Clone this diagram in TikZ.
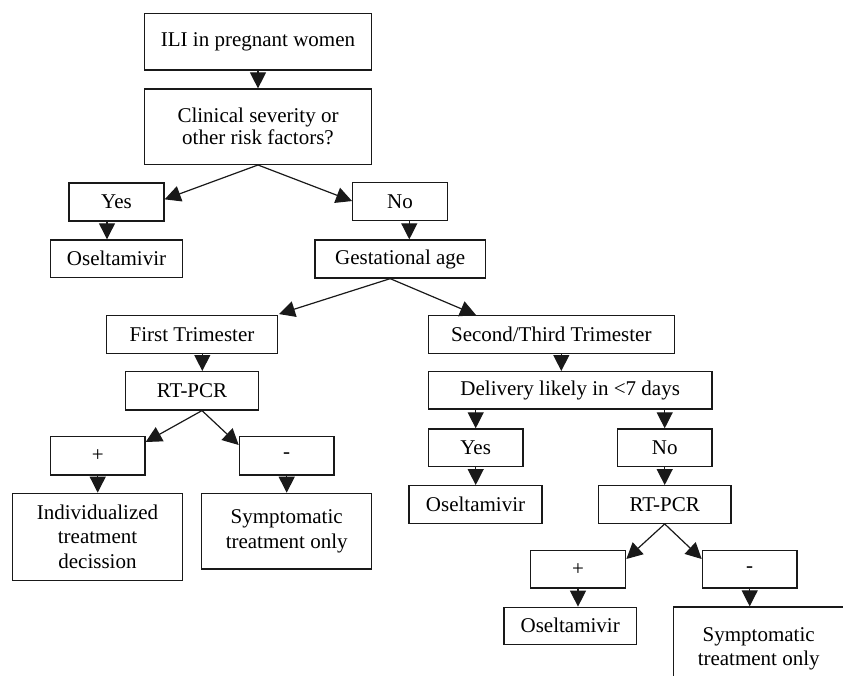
\documentclass[tikz,border=0pt]{standalone}
\usepackage{fontspec}
\setmainfont{Liberation Serif}
\usetikzlibrary{arrows.meta}
\begin{document}
\begin{tikzpicture}[x=1pt,y=-1pt,
  box/.style={draw=black!90, line width=1.3pt, inner sep=0pt, align=center,
    font=\fontsize{21}{24.3}\selectfont},
  arr/.style={draw=black!90, line width=1.2pt, -{Triangle[length=16pt,width=16pt]}}]
\useasboundingbox (0,0) rectangle (843,676);
\clip (0,0) rectangle (843,676);
\node[box, minimum width=227.4pt, minimum height=56.7pt] (ili) at (258,41.7) {ILI in pregnant women};
\node[box, minimum width=227.4pt, minimum height=75.3pt, font=\fontsize{21}{22}\selectfont] (clin) at (258,126.7) {Clinical severity or\\other risk factors?};
\node[box, minimum width=95pt, minimum height=38pt] (yes1) at (116.5,202) {Yes};
\node[box, minimum width=132.4pt, minimum height=37.7pt] (ose1) at (116.5,258.8) {Oseltamivir};
\node[box, minimum width=94.6pt, minimum height=38pt] (no1) at (400,201.7) {No};
\node[box, minimum width=170.3pt, minimum height=38pt] (gest) at (400.2,259) {Gestational age};
\node[box, minimum width=170.6pt, minimum height=37.6pt] (first) at (192,334.5) {First Trimester};
\node[box, minimum width=132.6pt, minimum height=38.3pt] (rt1) at (192,390.8) {RT-PCR};
\node[box, minimum width=94.7pt, minimum height=38.3pt] (plus1) at (97.7,455.8) {+};
\node[box, minimum width=94.7pt, minimum height=38.3pt] (minus1) at (286.7,455.8) {-};
\node[box, minimum width=170.4pt, minimum height=87pt] (indiv) at (97.5,536.8) {Individualized\\treatment\\decission};
\node[box, minimum width=170pt, minimum height=75.7pt] (symp1) at (286.7,531.2) {Symptomatic\\treatment only};
\node[box, minimum width=246pt, minimum height=37.6pt] (second) at (551.3,334.5) {Second/Third Trimester};
\node[box, minimum width=283.7pt, minimum height=37.3pt] (deliv) at (570.2,390.3) {Delivery likely in <7 days};
\node[box, minimum width=94.7pt, minimum height=37.7pt] (yes2) at (475.7,447.8) {Yes};
\node[box, minimum width=94.7pt, minimum height=37.7pt] (no2) at (664.7,447.8) {No};
\node[box, minimum width=133pt, minimum height=37.6pt] (ose2) at (475.5,504.5) {Oseltamivir};
\node[box, minimum width=132.7pt, minimum height=37.6pt] (rt2) at (664.7,504.5) {RT-PCR};
\node[box, minimum width=95.4pt, minimum height=37.3pt] (plus2) at (578,569.3) {+};
\node[box, minimum width=94.7pt, minimum height=37.3pt] (minus2) at (749.7,569.3) {-};
\node[box, minimum width=132.3pt, minimum height=37pt] (ose3) at (570.2,625.8) {Oseltamivir};
\node[box, minimum width=170pt, minimum height=83pt] (symp2) at (758.7,648.5) {Symptomatic\\treatment only};
% vertical arrows
\draw[arr] (ili.south) -- (ili.south |- clin.north);
\draw[arr] ([xshift=-9.5pt]yes1.south) -- ([xshift=-9.5pt]yes1.south |- ose1.north);
\draw[arr] ([xshift=9.3pt]no1.south) -- ([xshift=9.3pt]no1.south |- gest.north);
\draw[arr] ([xshift=10.3pt]first.south) -- ([xshift=10.3pt]first.south |- rt1.north);
\draw[arr] (plus1.south) -- (plus1.south |- indiv.north);
\draw[arr] (minus1.south) -- (minus1.south |- symp1.north);
\draw[arr] ([xshift=10pt]second.south) -- ([xshift=10pt]second.south |- deliv.north);
\draw[arr] (deliv.south -| yes2.north) -- (yes2.north);
\draw[arr] (deliv.south -| no2.north) -- (no2.north);
\draw[arr] (yes2.south) -- (yes2.south |- ose2.north);
\draw[arr] (no2.south) -- (no2.south |- rt2.north);
\draw[arr] (plus2.south) -- (plus2.south |- ose3.north);
\draw[arr] (minus2.south) -- (minus2.south |- symp2.north);
% diagonal arrows
\draw[arr] (clin.south) -- ([yshift=-17pt]yes1.north east);
\draw[arr] (clin.south) -- ([yshift=-19pt]no1.north west);
\draw[arr] ([xshift=-10pt]gest.south) -- ([xshift=1pt,yshift=1pt]first.north east);
\draw[arr] ([xshift=-10pt]gest.south) -- ([xshift=48.4pt]second.north west);
\draw[arr] ([xshift=10pt]rt1.south) -- ([yshift=-6pt]plus1.north east);
\draw[arr] ([xshift=10pt]rt1.south) -- ([yshift=-9pt]minus1.north west);
\draw[arr] (rt2.south) -- ([yshift=-9pt]plus2.north east);
\draw[arr] (rt2.south) -- ([yshift=-9pt]minus2.north west);
\end{tikzpicture}
\end{document}
